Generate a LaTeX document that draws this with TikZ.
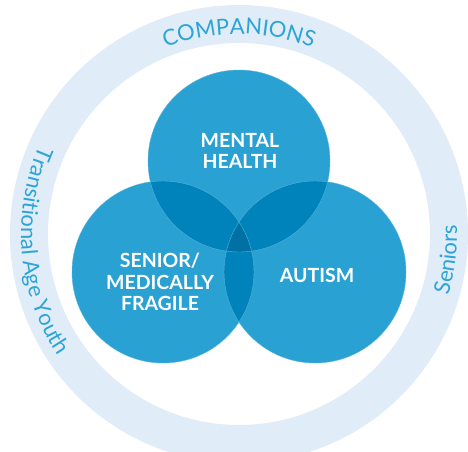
\documentclass[tikz,border=0pt]{standalone}
\usepackage{fontspec}
\setmainfont{Lato}
\usetikzlibrary{decorations.text}
\definecolor{ringblue}{HTML}{E0ECF8}
\definecolor{ringtext}{HTML}{2DA4D6}
\definecolor{vennblue}{HTML}{2AA1D3}
\definecolor{lensblue}{HTML}{0083BA}
\definecolor{coreblue}{HTML}{0070A5}
\newcommand{\ringfont}{\fontsize{22}{25}\selectfont}
\newcommand{\labelfont}{\fontsize{19.5}{21.5}\selectfont\bfseries}
\begin{document}
\begin{tikzpicture}[x=1pt, y=1pt]
			\tikzstyle{every node}=[font=\labelfont, text=white, align=center]
			\tikzstyle{venn}=[circle, fill=vennblue, minimum size=182pt, inner sep=0pt]
			\tikzstyle{ringlabel}=[decorate, decoration={text along path, text align=center, text color=ringtext}]
			\useasboundingbox (0, 0) rectangle (468, 451);
			\coordinate (Centre) at (239, 217);
			\fill[ringblue, even odd rule] (Centre) circle (229pt) (Centre) circle (191pt);
			\node[venn] (Mental) at (239, 290) {};
			\node[venn] (Senior) at (163, 179) {};
			\node[venn] (Autism) at (315, 179) {};
			\begin{scope}
				\clip (Mental.center) circle (91pt);
				\fill[lensblue] (Senior.center) circle (91pt);
				\fill[lensblue] (Autism.center) circle (91pt);
			\end{scope}
			\begin{scope}
				\clip (Senior.center) circle (91pt);
				\fill[lensblue] (Autism.center) circle (91pt);
				\clip (Mental.center) circle (91pt);
				\fill[coreblue] (Autism.center) circle (91pt);
			\end{scope}
			\foreach \c in {Mental, Senior, Autism}
				\draw[vennblue!80!white, line width=0.4pt] (\c.center) circle (91pt);
			\node (MentalText) at (240, 300) {MENTAL\\HEALTH};
			\node (SeniorText) at (160, 169) {SENIOR/\\MEDICALLY\\FRAGILE};
			\node (AutismText) at (317, 176) {AUTISM};
			\path[ringlabel, decoration={text={|\ringfont|COMPANIONS}}] (Centre) ++(140:200pt) arc[start angle=140, end angle=40, radius=200pt];
			\path[ringlabel, decoration={text={|\ringfont|Transitional Age Youth}}] (Centre) ++(125:218pt) arc[start angle=125, end angle=245, radius=218pt];
			\path[ringlabel, decoration={text={|\ringfont|Seniors}}] (Centre) ++(-67:218pt) arc[start angle=-67, end angle=53, radius=218pt];
		\end{tikzpicture}
\end{document}
